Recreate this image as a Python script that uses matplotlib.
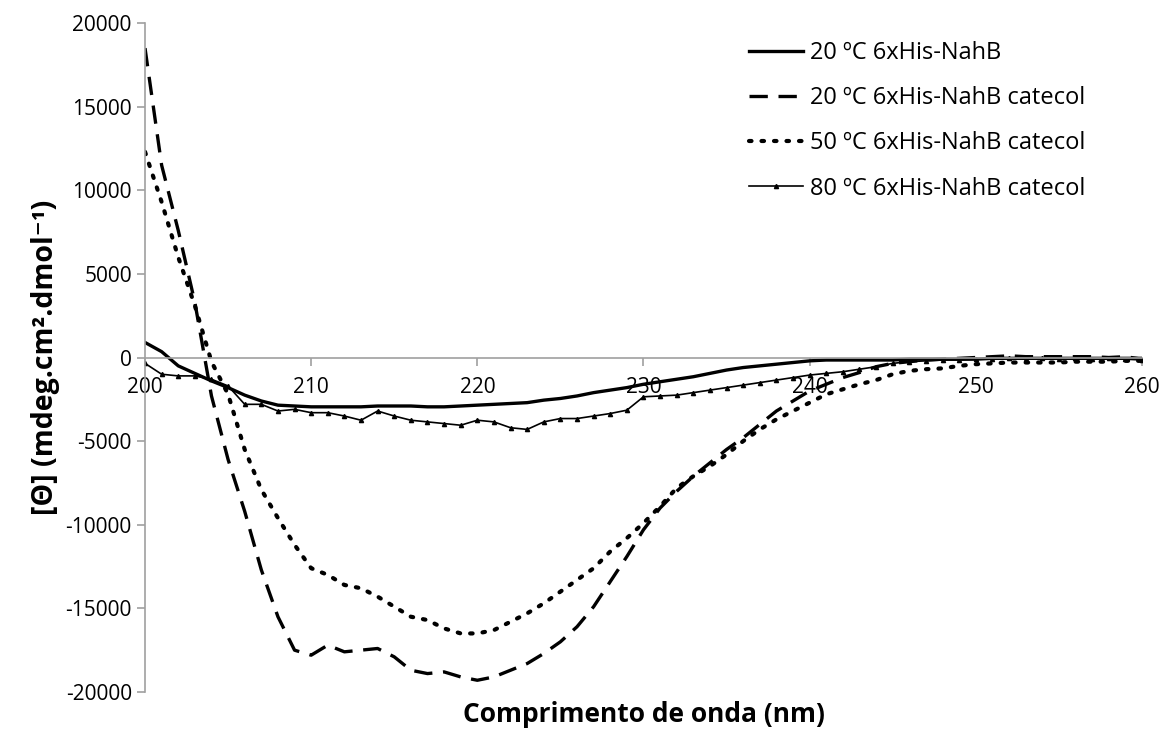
import numpy as np
import matplotlib.pyplot as plt

# wavelength (nm), 1 nm steps
wavelength = list(range(200, 261))

theta_20 = [900, 350, -500, -950, -1400, -1800, -2250, -2600, -2850, -2900,
            -2950, -2950, -2950, -2950, -2900, -2900, -2900, -2950, -2950, -2900,
            -2850, -2800, -2750, -2700, -2550, -2450, -2300, -2100, -1950, -1800,
            -1600, -1450, -1300, -1150, -950, -750, -600, -500, -400, -300,
            -200, -150, -150, -150, -150, -150, -100, -100, -100, -100,
            -100, -50, -50, -50, -50, -50, -50, -50, -50, -50, -50]

theta_20_cat = [18500, 11500, 7600, 3300, -2300, -6100, -9200, -12700, -15500, -17500,
                -17800, -17200, -17600, -17500, -17400, -17900, -18700, -18900, -18800, -19100,
                -19300, -19100, -18700, -18300, -17700, -17000, -16100, -14900, -13400, -11900,
                -10300, -9000, -8000, -7100, -6300, -5500, -4800, -4000, -3200, -2600,
                -2000, -1600, -1200, -900, -550, -350, -250, -150, -100, -50,
                0, 50, 100, 50, 50, 50, 50, 50, 0, 50, -100]

theta_50_cat = [12300, 9300, 6000, 3100, -250, -2200, -5500, -7900, -9600, -11200,
                -12600, -13000, -13600, -13800, -14300, -14900, -15500, -15700, -16200, -16500,
                -16500, -16300, -15800, -15300, -14700, -14000, -13300, -12600, -11600, -10800,
                -9900, -8900, -7800, -7100, -6500, -5800, -5000, -4300, -3700, -3200,
                -2700, -2200, -1900, -1600, -1350, -1000, -800, -700, -650, -500,
                -400, -350, -300, -300, -300, -300, -250, -250, -250, -200, -200]

theta_80_cat = [-350, -1000, -1100, -1100, -1300, -1700, -2800, -2800, -3200, -3100,
                -3300, -3300, -3500, -3750, -3200, -3500, -3750, -3850, -3950, -4050,
                -3750, -3850, -4200, -4300, -3850, -3650, -3650, -3500, -3350, -3150,
                -2350, -2300, -2250, -2100, -1950, -1800, -1650, -1500, -1350, -1200,
                -1050, -950, -850, -700, -550, -350, -250, -200, -150, -150,
                -100, -100, -50, -100, -50, -100, -50, -100, -50, -100, -150]

labels = ['20 ºC 6xHis-NahB', '20 ºC 6xHis-NahB catecol',
          '50 ºC 6xHis-NahB catecol', '80 ºC 6xHis-NahB catecol']

plt.rcParams['font.family'] = ['Open Sans', 'DejaVu Sans']
plt.rcParams['axes.unicode_minus'] = False

fig = plt.figure(figsize=(11.61, 7.29), dpi=100)
ax = fig.add_axes([0.1249, 0.0508, 0.8587, 0.9176])

ax.plot(wavelength, theta_20, color='black', lw=2.4, label=labels[0])
ax.plot(wavelength, theta_20_cat, color='black', lw=2.4, linestyle=(0, (5.5, 3.2)),
        label=labels[1])
ax.plot(wavelength, theta_50_cat, color='black', lw=3.0, linestyle=(0, (0.6, 2.4)),
        dash_capstyle='round', label=labels[2])
ax.plot(wavelength, theta_80_cat, color='black', lw=1.2, marker='^', ms=3,
        label=labels[3])

ax.set_xlim(200, 260)
ax.set_ylim(-20000, 20000)
ax.set_xticks(range(200, 261, 10))
ax.set_yticks(range(-20000, 20001, 5000))

for side in ['top', 'right']:
    ax.spines[side].set_visible(False)
ax.spines['bottom'].set_position(('data', 0))
ax.spines['bottom'].set_color('#a0a0a0')
ax.spines['left'].set_color('#a0a0a0')
ax.spines['bottom'].set_linewidth(1.2)
ax.spines['left'].set_linewidth(1.2)
ax.tick_params(axis='both', direction='out', length=6, width=1.2, color='#a0a0a0',
               labelsize=15)
ax.tick_params(axis='x', pad=8)

ax.set_ylabel('[Θ] (mdeg.cm².dmol⁻¹)', fontsize=20.5, fontweight='bold', labelpad=4)
ax.set_xlabel('Comprimento de onda (nm)', fontsize=19, fontweight='bold')
ax.xaxis.label.set_va('center')
ax.xaxis.set_label_coords(0.5, -0.034)

ax.legend(loc='upper right', bbox_to_anchor=(0.965, 1.005), frameon=False, fontsize=17,
          handlelength=2.3, handletextpad=0.3, labelspacing=0.9)

fig.savefig('out.png', dpi=100)
